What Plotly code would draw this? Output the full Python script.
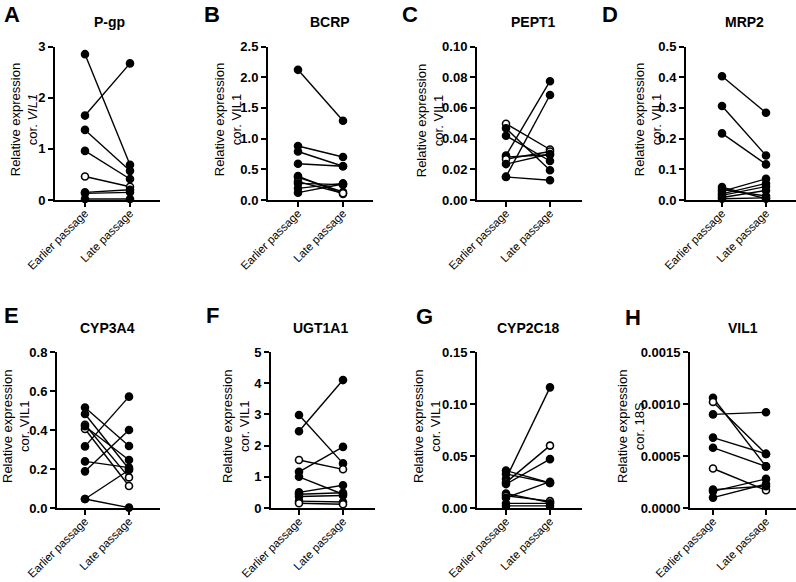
import plotly.graph_objects as go

W, H = 796, 582
categories = ["Earlier passage", "Late passage"]

# ---- data ----
pgp_earlier = [2.85, 1.65, 1.37, 0.96, 0.46, 0.15, 0.13, 0.02]
pgp_late = [0.69, 2.67, 0.57, 0.41, 0.26, 0.20, 0.15, 0.02]
pgp_open = [4]

bcrp_earlier = [2.12, 0.88, 0.79, 0.59, 0.39, 0.37, 0.30, 0.27, 0.19, 0.12]
bcrp_late = [1.29, 0.70, 0.55, 0.55, 0.10, 0.13, 0.11, 0.25, 0.27, 0.26]
bcrp_open = [6]

pept1_earlier = [0.0497, 0.0467, 0.0419, 0.0290, 0.0280, 0.0266, 0.0234, 0.0152, 0.0150]
pept1_late = [0.0329, 0.0194, 0.0254, 0.0774, 0.0295, 0.0316, 0.0300, 0.0684, 0.0129]
pept1_open = [0, 5]

mrp2_earlier = [0.403, 0.306, 0.217, 0.042, 0.034, 0.028, 0.020, 0.015, 0.008, 0.004]
mrp2_late = [0.284, 0.145, 0.116, 0.004, 0.013, 0.069, 0.054, 0.044, 0.031, 0.007]
mrp2_open = []

cyp3a4_earlier = [0.515, 0.482, 0.427, 0.405, 0.419, 0.316, 0.239, 0.188, 0.046, 0.046]
cyp3a4_late = [0.318, 0.200, 0.157, 0.113, 0.246, 0.571, 0.207, 0.400, 0.195, 0.002]
cyp3a4_open = [2, 3]

ugt1a1_earlier = [2.98, 2.46, 1.54, 1.16, 1.00, 0.50, 0.44, 0.37, 0.22, 0.15]
ugt1a1_late = [1.43, 4.10, 1.24, 1.96, 0.44, 0.73, 0.49, 0.40, 0.19, 0.12]
ugt1a1_open = [2, 9]

cyp2c18_earlier = [0.036, 0.0327, 0.028, 0.0246, 0.023, 0.014, 0.0117, 0.0098, 0.0044, 0.002]
cyp2c18_late = [0.024, 0.0240, 0.116, 0.060, 0.047, 0.0053, 0.0066, 0.0253, 0.0044, 0.002]
cyp2c18_open = [3, 6]

vil1_earlier = [0.00106, 0.00102, 0.00090, 0.000677, 0.00058, 0.00038, 0.000177, 0.00016, 0.00010]
vil1_late = [0.00040, 0.00052, 0.00092, 0.00052, 0.00040, 0.00017, 0.00021, 0.00028, 0.00023]
vil1_open = [1, 5]

FONT = "Liberation Sans, Arial, sans-serif"

# ---- panel layout (pixel geometry) ----
ROW_TOP = [46.5, 352]
ROW_BOT = [200, 508]
panels = [
    dict(letter="A", title="P-gp", yt="Relative expression<br>cor. <i>VIL1</i>", e=pgp_earlier, l=pgp_late, o=pgp_open,
         yr=[0, 3], dt=1, fmt=".0f", row=0, L=55, c0=85, c1=130, R=160, lx=12, ly=14, tx=110, ytx=24),
    dict(letter="B", title="BCRP", yt="Relative expression<br>cor. VIL1", e=bcrp_earlier, l=bcrp_late, o=bcrp_open,
         yr=[0, 2.5], dt=0.5, fmt=".1f", row=0, L=268, c0=298, c1=343, R=373, lx=212, ly=14, tx=330, ytx=228),
    dict(letter="C", title="PEPT1", yt="Relative expression<br>cor. VIL1", e=pept1_earlier, l=pept1_late, o=pept1_open,
         yr=[0, 0.10], dt=0.02, fmt=".2f", row=0, L=477, c0=506, c1=550, R=582, lx=410, ly=14, tx=533, ytx=430),
    dict(letter="D", title="MRP2", yt="Relative expression<br>cor. VIL1", e=mrp2_earlier, l=mrp2_late, o=mrp2_open,
         yr=[0, 0.5], dt=0.1, fmt=".1f", row=0, L=686, c0=722, c1=766, R=796, lx=610, ly=14, tx=744, ytx=648),
    dict(letter="E", title="CYP3A4", yt="Relative expression<br>cor. VIL1", e=cyp3a4_earlier, l=cyp3a4_late, o=cyp3a4_open,
         yr=[0, 0.8], dt=0.2, fmt=".1f", row=1, L=57, c0=85, c1=129, R=160, lx=11, ly=315, tx=107, ytx=16),
    dict(letter="F", title="UGT1A1", yt="Relative expression<br>cor. VIL1", e=ugt1a1_earlier, l=ugt1a1_late, o=ugt1a1_open,
         yr=[0, 5], dt=1, fmt=".0f", row=1, L=271, c0=299, c1=343, R=375, lx=212, ly=315, tx=320, ytx=236),
    dict(letter="G", title="CYP2C18", yt="Relative expression<br>cor. VIL1", e=cyp2c18_earlier, l=cyp2c18_late, o=cyp2c18_open,
         yr=[0, 0.15], dt=0.05, fmt=".2f", row=1, L=477, c0=506, c1=550, R=582, lx=425, ly=316, tx=528, ytx=427),
    dict(letter="H", title="VIL1", yt="Relative expression<br>cor. 18S", e=vil1_earlier, l=vil1_late, o=vil1_open,
         yr=[0, 0.0015], dt=0.0005, fmt=".4f", row=1, L=690, c0=713, c1=766, R=796, lx=633, ly=317, tx=743, ytx=631),
]

fig = go.Figure()
annotations = []
for i, p in enumerate(panels):
    n = i + 1
    xa = "x" if n == 1 else f"x{n}"
    ya = "y" if n == 1 else f"y{n}"
    xs, ys, cols = [], [], []
    for k, (a, b) in enumerate(zip(p["e"], p["l"])):
        c = "white" if k in p["o"] else "black"
        xs += [0, 1, None]
        ys += [a, b, None]
        cols += [c, c, "black"]
    fig.add_trace(go.Scatter(
        x=xs, y=ys, mode="lines+markers", xaxis=xa, yaxis=ya, showlegend=False,
        line=dict(color="black", width=1.4),
        marker=dict(size=7, color=cols, line=dict(color="black", width=1.6)),
        cliponaxis=False, connectgaps=False, hoverinfo="skip"))

    sp = p["c1"] - p["c0"]
    xr = [-(p["c0"] - p["L"]) / sp, 1 + (p["R"] - p["c1"]) / sp]
    dom_x = [p["L"] / W, p["R"] / W]
    top, bot = ROW_TOP[p["row"]], ROW_BOT[p["row"]]
    dom_y = [1 - bot / H, 1 - top / H]
    axis_common = dict(showline=True, linewidth=2, linecolor="black", showgrid=False, zeroline=False,
                       ticks="outside", tickwidth=2, tickcolor="black", ticklen=5, automargin=False)
    fig.layout[("xaxis" if n == 1 else f"xaxis{n}")] = dict(
        domain=dom_x, range=xr, anchor=ya, tickvals=[0, 1], ticktext=categories, tickangle=-45,
        ticklabelstandoff=-5,
        tickfont=dict(family=FONT, size=11.5, color="black"), fixedrange=True, **axis_common)
    fig.layout[("yaxis" if n == 1 else f"yaxis{n}")] = dict(
        domain=dom_y, range=p["yr"], anchor=xa, dtick=p["dt"], tick0=0, tickformat=p["fmt"],
        tickfont=dict(family=FONT, size=13, color="black", weight="bold"), fixedrange=True, **axis_common)

    annotations.append(dict(text=f"<b>{p['letter']}</b>", x=p["lx"] / W, y=1 - p["ly"] / H, xref="paper", yref="paper",
                            xanchor="center", yanchor="middle", showarrow=False,
                            font=dict(family=FONT, size=22, color="black")))
    annotations.append(dict(text=f"<b>{p['title']}</b>", x=p["tx"] / W, y=1 - (top - 24) / H, xref="paper", yref="paper",
                            xanchor="center", yanchor="middle", showarrow=False,
                            font=dict(family=FONT, size=14, color="black")))
    annotations.append(dict(text=p["yt"], x=p["ytx"] / W, y=1 - ((top + bot) / 2 - 3) / H, xref="paper", yref="paper",
                            xanchor="center", yanchor="middle", showarrow=False, textangle=-90,
                            font=dict(family=FONT, size=13, color="black")))

fig.update_layout(width=W, height=H, margin=dict(l=0, r=0, t=0, b=0, pad=0), template=None,
                  paper_bgcolor="white", plot_bgcolor="white", annotations=annotations,
                  font=dict(family=FONT, color="black"))
fig.write_html("out.html", config={"displayModeBar": False},
               post_script="document.body.style.margin='0px';document.body.style.overflow='hidden';")
